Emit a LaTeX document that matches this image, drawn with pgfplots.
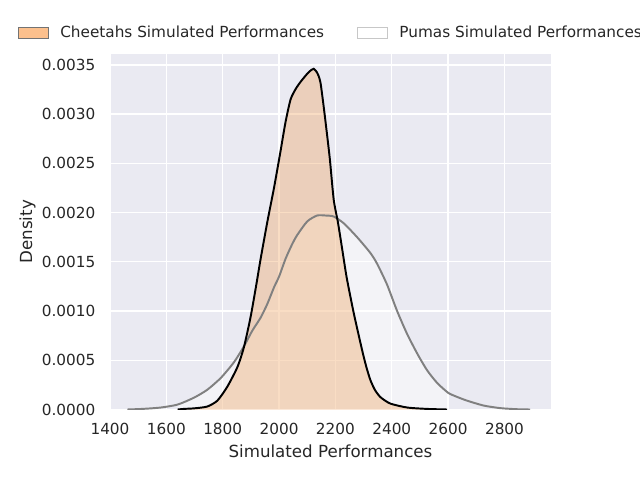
\documentclass[border=0pt]{standalone}
\usepackage{fontspec}
\setmainfont{DejaVu Sans}
\usepackage{pgfplots}
\pgfplotsset{compat=1.18}
\usepackage{pgfplotstable}
\definecolor{bgc}{HTML}{EAEAF2}
\definecolor{txt}{HTML}{262626}
\definecolor{cheetah}{HTML}{EE9E56}
\definecolor{cheetahpatch}{HTML}{FCC08D}
\definecolor{pumaline}{HTML}{808080}
\pgfplotsset{patchleg/.style={legend image code/.code={\draw[##1] (0pt,-3.8pt) rectangle (21.6pt,3.8pt); \path[draw=none,fill=none] (0pt,0pt) -- (28.5pt,0pt);}}}

\pgfplotstableread{
x y
1640 0
1662 0.000006
1700 0.000012
1745 0.00003
1781 0.00009
1816 0.00023
1852 0.00043
1875 0.00063
1899 0.00094
1920 0.00128
1934 0.00152
1958 0.00190
1982 0.00225
2005 0.00262
2023 0.00292
2041 0.00315
2060 0.00326
2077 0.00333
2100 0.00341
2115 0.00345
2123 0.00346
2133 0.00343
2140 0.00339
2147 0.00332
2156 0.00313
2165 0.00292
2180 0.00255
2194 0.00213
2209 0.00190
2224 0.00163
2240 0.00134
2265 0.00098
2295 0.00060
2310 0.00043
2324 0.00030
2340 0.00020
2360 0.000125
2395 0.00006
2455 0.00002
2525 0.000006
2596 0
}\cheetah

\pgfplotstableread{
x y
1462 0
1521 0.000007
1580 0.00002
1640 0.00005
1698 0.00012
1745 0.00020
1793 0.00032
1840 0.00048
1875 0.00064
1905 0.00080
1934 0.00093
1958 0.00107
1982 0.00124
2000 0.00135
2023 0.00153
2045 0.00167
2064 0.00177
2100 0.00191
2135 0.00197
2165 0.00197
2194 0.00196
2230 0.00189
2277 0.00175
2324 0.00159
2348 0.00148
2383 0.00127
2419 0.00100
2454 0.00077
2490 0.00057
2525 0.00040
2561 0.00027
2600 0.00017
2630 0.00013
2667 0.00009
2726 0.00004
2785 0.000014
2844 0.000003
2891 0
}\puma

\begin{document}
\begin{tikzpicture}
\path[use as bounding box] (-79.2pt,-50.76pt) rectangle (381.6pt,294.84pt);
\begin{axis}[
  at={(0pt,0pt)}, anchor=south west,
  scale only axis,
  width=317.5pt, height=256pt,
  xmin=1400, xmax=2965,
  ymin=0, ymax=0.003611,
  axis background/.style={fill=bgc},
  axis line style={draw=none},
  major tick length=0pt,
  grid=major,
  major grid style={white, line width=1pt},
  xtick={1400,1600,...,2800},
  ytick={0,0.0005,...,0.00351},
  scaled y ticks=false,
  xticklabel style={/pgf/number format/1000 sep={}, yshift=-6pt},
  yticklabel style={/pgf/number format/fixed, /pgf/number format/fixed zerofill, /pgf/number format/precision=4, xshift=-7pt},
  /pgf/number format/assume math mode=true,
  tick label style={font=\fontsize{11}{13}\selectfont, text=txt},
  label style={font=\fontsize{12}{14}\selectfont, text=txt},
  xlabel={Simulated Performances},
  ylabel={Density},
  xlabel style={at={(axis description cs:0.5,0)}, anchor=base, yshift=-34.9pt},
  ylabel style={at={(axis description cs:0,0.5)}, anchor=base, yshift=56pt},
  legend columns=2,
  legend style={draw=none, fill=none, at={(-0.2101,1.060)}, anchor=west, inner sep=0pt,
    font=\fontsize{11}{13}\selectfont, text=txt,
    /tikz/every even column/.append style={column sep=21.5pt}},
]
\addlegendimage{patchleg, fill=cheetahpatch, draw=gray!90!black}
\addlegendentry{Cheetahs Simulated Performances}
\addlegendimage{patchleg, fill=white, draw=black!22}
\addlegendentry{Pumas Simulated Performances}

\addplot[draw=none, fill=white, fill opacity=0.45, restrict x to domain=1640:2600, smooth, tension=0.4, forget plot] table[x=x,y=y] {\puma} \closedcycle;
\addplot[draw=none, fill=cheetah, fill opacity=0.35, smooth, tension=0.4, forget plot] table[x=x,y=y] {\cheetah} \closedcycle;
\addplot[pumaline, line width=1.4pt, smooth, tension=0.4, forget plot] table[x=x,y=y] {\puma};
\addplot[black, line width=1.4pt, smooth, tension=0.4, forget plot] table[x=x,y=y] {\cheetah};
\end{axis}
\end{tikzpicture}
\end{document}
